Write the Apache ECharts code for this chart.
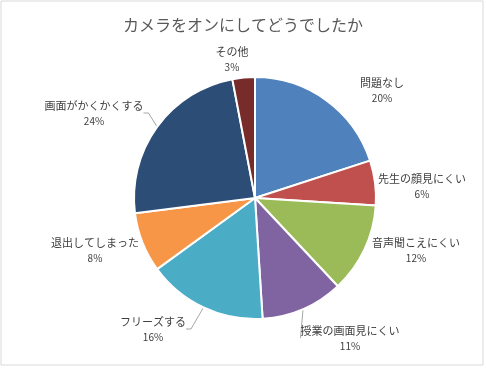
<!DOCTYPE html>
<html><head><meta charset="utf-8">
<script src="https://cdn.jsdelivr.net/npm/echarts@6/dist/echarts.min.js"></script>
<style>html,body{margin:0;padding:0;background:#fff}#c{width:486px;height:371px}</style>
</head><body><div id="c"></div>
<script>
const title = 'カメラをオンにしてどうでしたか';
const categories = ['問題なし','先生の顔見にくい','音声聞こえにくい','授業の画面見にくい','フリーズする','退出してしまった','画面がかくかくする','その他'];
const values = [20, 6, 12, 11, 16, 8, 24, 3];
const colors = ['#4F81BD','#C0504D','#9BBB59','#8064A2','#4BACC6','#F79646','#2C4D75','#772C2A'];
const labelPos = [[382,90],[422,186],[416,250],[350,338],[153,329],[95,250],[94,113],[232,59]];
const showLine = [false,false,false,true,true,false,true,false];

const chart = echarts.init(document.getElementById('c'), null, {renderer:'canvas'});
chart.setOption({
  animation:false,
  title:{text:title,left:'center',top:12,textStyle:{fontFamily:'Noto Sans CJK JP',fontSize:16,fontWeight:'normal',color:'#595959'}},
  graphic:[{type:'rect',shape:{x:1,y:1,width:482,height:364},style:{fill:'none',stroke:'#d9d9d9',lineWidth:1},silent:true}],
  series:[{
    type:'pie',
    center:[255,198],
    radius:[0,121],
    startAngle:90,
    clockwise:true,
    itemStyle:{borderColor:'#fff',borderWidth:2},
    label:{show:true,position:'outside',overflow:'none',edgeDistance:0,
      formatter:p=>'{n|'+p.name+'}\n{p|'+p.value+'%}',
      rich:{n:{fontFamily:'Noto Sans CJK JP',fontSize:11,color:'#404040',lineHeight:16,align:'center'},
            p:{fontFamily:'Noto Sans CJK JP',fontSize:10,color:'#404040',lineHeight:15,align:'center'}}},
    labelLine:{show:true,length:5,length2:5,lineStyle:{color:'#a6a6a6',width:1}},
    labelLayout:p=>({x:labelPos[p.dataIndex][0],y:labelPos[p.dataIndex][1],align:'center',verticalAlign:'middle'}),
    data:categories.map((c,i)=>({name:c,value:values[i],itemStyle:{color:colors[i]},labelLine:{show:showLine[i]}}))
  }]
});
</script></body></html>
